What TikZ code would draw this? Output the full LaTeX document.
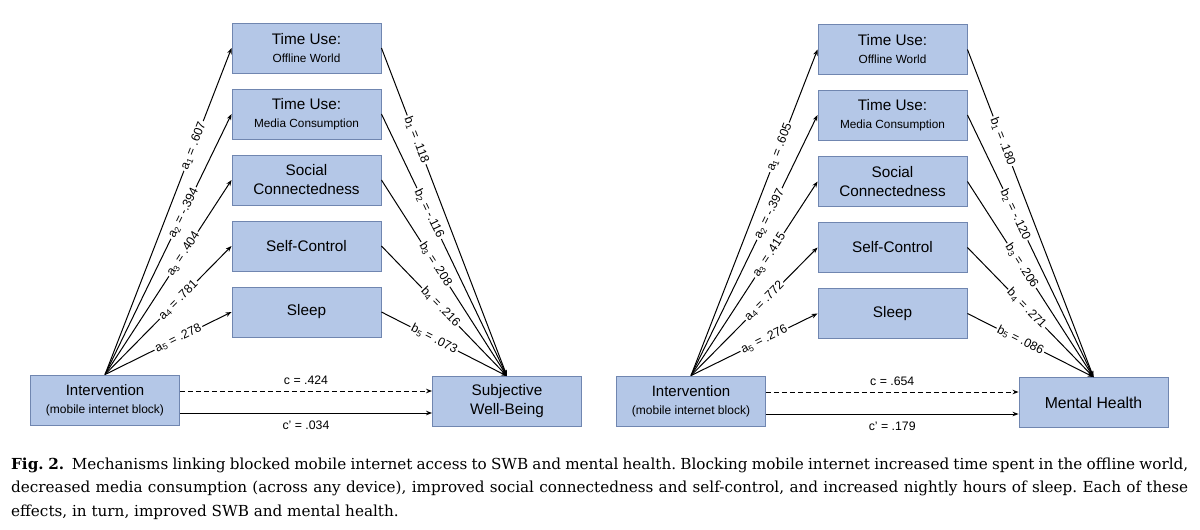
\documentclass[tikz,border=0pt]{standalone}
\usepackage{fontspec}
\setmainfont{Liberation Sans}
\newfontfamily\capfont{DejaVu Serif}
\usetikzlibrary{arrows.meta}
\definecolor{boxfill}{RGB}{180,199,231}
\definecolor{boxline}{RGB}{112,134,176}
\tikzset{
  box/.style={draw=boxline, fill=boxfill, line width=0.9pt, minimum width=149pt,
    minimum height=50pt, inner sep=0pt, align=center,
    font=\fontsize{15.3}{19}\selectfont},
  arr/.style={-{Stealth[length=6pt,width=4.5pt]}, line width=1pt},
  lab/.style={sloped, fill=white, inner sep=1.5pt, font=\fontsize{12.3}{14}\selectfont},
  clab/.style={font=\fontsize{12.3}{14}\selectfont}
}
\newcommand\subt[1]{{\fontsize{11.8}{13}\selectfont #1}}
\newcommand\capline[1]{\makebox[1177pt][s]{#1}}
\begin{document}
\frenchspacing
\begin{tikzpicture}[x=1pt,y=-1pt]
\useasboundingbox (0,0) rectangle (1200,530);
% ---------- left diagram ----------
\node[box] (L1) at (306.5,48) {Time Use:\\[-1pt]\subt{Offline World}};
\node[box] (L2) at (306.5,114) {Time Use:\\[-1pt]\subt{Media Consumption}};
\node[box] (L3) at (306.5,180) {Social\\Connectedness};
\node[box] (L4) at (306.5,246) {Self-Control};
\node[box] (L5) at (306.5,312) {Sleep};
\node[box] (LI) at (105,400) {{\fontsize{15}{19}\selectfont Intervention}\\[-1pt]{\fontsize{12}{14}\selectfont (mobile internet block)}};
\node[box] (LS) at (507,401.5) {Subjective\\Well-Being};

\draw[arr] (LI.north) -- node[lab,pos=0.70]{a\textsubscript{1} = .607} (L1.west);
\draw[arr] (LI.north) -- node[lab,pos=0.62]{a\textsubscript{2} = -.394} (L2.west);
\draw[arr] (LI.north) -- node[lab,pos=0.62]{a\textsubscript{3} = .404} (L3.west);
\draw[arr] (LI.north) -- node[lab,pos=0.58]{a\textsubscript{4} = .781} (L4.west);
\draw[arr] (LI.north) -- node[lab,pos=0.58]{a\textsubscript{5} = .278} (L5.west);

\draw[arr] (L1.east) -- node[lab,pos=0.28]{b\textsubscript{1} = .118} (LS.north);
\draw[arr] (L2.east) -- node[lab,pos=0.38]{b\textsubscript{2} = -.116} (LS.north);
\draw[arr] (L3.east) -- node[lab,pos=0.43]{b\textsubscript{3} = .208} (LS.north);
\draw[arr] (L4.east) -- node[lab,pos=0.47]{b\textsubscript{4} = .216} (LS.north);
\draw[arr] (L5.east) -- node[lab,pos=0.42]{b\textsubscript{5} = .073} (LS.north);

\draw[arr,dashed,dash pattern=on 5pt off 3pt] ([yshift=9pt]LI.east) -- node[clab,above=3pt]{c = .424} ([yshift=9pt]LI.east -| LS.west);
\draw[arr] ([yshift=-13pt]LI.east) -- node[clab,below=4pt]{c' = .034} ([yshift=-13pt]LI.east -| LS.west);

% ---------- right diagram ----------
\node[box] (R1) at (892.5,49.5) {Time Use:\\[-1pt]\subt{Offline World}};
\node[box] (R2) at (892.5,115) {Time Use:\\[-1pt]\subt{Media Consumption}};
\node[box] (R3) at (892.5,181.5) {Social\\Connectedness};
\node[box] (R4) at (892.5,247.5) {Self-Control};
\node[box] (R5) at (892.5,313.5) {Sleep};
\node[box] (RI) at (691,401) {{\fontsize{15}{19}\selectfont Intervention}\\[-1pt]{\fontsize{12}{14}\selectfont (mobile internet block)}};
\node[box] (RS) at (1093.5,402.5) {\fontsize{15.8}{19}\selectfont Mental Health};

\draw[arr] (RI.north) -- node[lab,pos=0.70]{a\textsubscript{1} = .605} (R1.west);
\draw[arr] (RI.north) -- node[lab,pos=0.62]{a\textsubscript{2} = -.397} (R2.west);
\draw[arr] (RI.north) -- node[lab,pos=0.62]{a\textsubscript{3} = .415} (R3.west);
\draw[arr] (RI.north) -- node[lab,pos=0.58]{a\textsubscript{4} = .772} (R4.west);
\draw[arr] (RI.north) -- node[lab,pos=0.58]{a\textsubscript{5} = .276} (R5.west);

\draw[arr] (R1.east) -- node[lab,pos=0.28]{b\textsubscript{1} = .180} (RS.north);
\draw[arr] (R2.east) -- node[lab,pos=0.38]{b\textsubscript{2} = -.120} (RS.north);
\draw[arr] (R3.east) -- node[lab,pos=0.43]{b\textsubscript{3} = .206} (RS.north);
\draw[arr] (R4.east) -- node[lab,pos=0.47]{b\textsubscript{4} = .271} (RS.north);
\draw[arr] (R5.east) -- node[lab,pos=0.42]{b\textsubscript{5} = .086} (RS.north);

\draw[arr,dashed,dash pattern=on 5pt off 3pt] ([yshift=9pt]RI.east) -- node[clab,above=3pt]{c = .654} ([yshift=9pt]RI.east -| RS.west);
\draw[arr] ([yshift=-13pt]RI.east) -- node[clab,below=4pt]{c' = .179} ([yshift=-13pt]RI.east -| RS.west);

% ---------- caption ----------
\begin{scope}[every node/.style={anchor=base west, inner sep=0pt, font=\capfont\fontsize{15.2}{22}\selectfont}]
\node (cap1) at (11,469) {\capline{\textbf{Fig. 2.}\enspace Mechanisms linking blocked mobile internet access to SWB and mental health. Blocking mobile internet increased time spent in the offline world,}};
\node (cap2) at (11,492.5) {\capline{decreased media consumption (across any device), improved social connectedness and self-control, and increased nightly hours of sleep. Each of these}};
\node (cap3) at (11,516) {effects, in turn, improved SWB and mental health.};
\end{scope}
\end{tikzpicture}
\end{document}
